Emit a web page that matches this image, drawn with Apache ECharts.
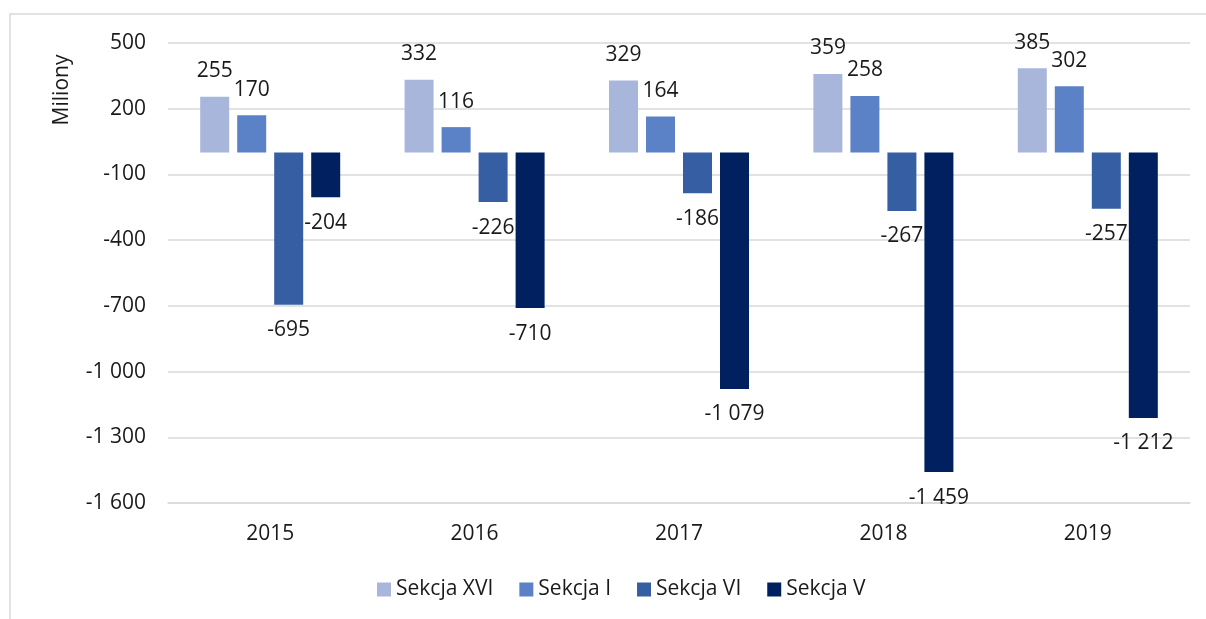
<!DOCTYPE html>
<html>
<head>
<meta charset="utf-8">
<script src="https://cdn.jsdelivr.net/npm/echarts@6/dist/echarts.min.js"></script>
<style>
  html, body { margin: 0; padding: 0; background: #fff; }
  #chart { width: 1206px; height: 619px; }
</style>
</head>
<body>
<div id="chart"></div>
<script>
const years       = ['2015', '2016', '2017', '2018', '2019'];
const seriesNames = ['Sekcja XVI', 'Sekcja I', 'Sekcja VI', 'Sekcja V'];
const sekcjaXVI   = [255, 332, 329, 359, 385];
const sekcjaI     = [170, 116, 164, 258, 302];
const sekcjaVI    = [-695, -226, -186, -267, -257];
const sekcjaV     = [-204, -710, -1079, -1459, -1212];
const colors      = ['#a8b6db', '#5b82c6', '#365fa3', '#002060'];

const FONT = 'Open Sans';
const FS   = 21;
const TXT  = '#1a1a1a';

// space as thousands separator, like "-1 079"
function fmt(v) {
    const s = String(Math.abs(v)).replace(/\B(?=(\d{3})+(?!\d))/g, ' ');
    return v < 0 ? '-' + s : s;
}

function makeSeries(name, values, color) {
    return {
        name: name,
        type: 'bar',
        barWidth: 29,
        barGap: '27.6%',
        itemStyle: { color: color },
        label: {
            show: true,
            distance: 15,
            fontFamily: FONT,
            fontSize: FS,
            color: TXT,
            formatter: p => fmt(p.value)
        },
        data: values.map(v => ({
            value: v,
            label: { position: v >= 0 ? 'top' : 'bottom' }
        }))
    };
}

const allValues = [sekcjaXVI, sekcjaI, sekcjaVI, sekcjaV];

const chart = echarts.init(document.getElementById('chart'));
chart.setOption({
    animation: false,
    textStyle: { fontFamily: FONT },
    grid: { left: 168, right: 16, top: 43, bottom: 116 },
    legend: {
        data: seriesNames,
        left: 372,
        top: 574,
        icon: 'rect',
        itemWidth: 14,
        itemHeight: 14,
        itemGap: 26,
        textStyle: { fontFamily: FONT, fontSize: FS, color: TXT }
    },
    xAxis: [{
        type: 'category',
        data: years,
        axisLine: { show: false },
        axisTick: { show: false },
        axisLabel: { margin: 21, fontFamily: FONT, fontSize: FS, color: TXT }
    }, {
        // zero line
        type: 'category',
        data: years,
        position: 'bottom',
        axisLine: { show: true, onZero: true, lineStyle: { color: '#d9d9d9', width: 1.5 } },
        axisTick: { show: false },
        axisLabel: { show: false }
    }],
    yAxis: {
        type: 'value',
        min: -1600,
        max: 500,
        interval: 300,
        axisLine: { show: false },
        axisTick: { show: false },
        splitLine: { lineStyle: { color: '#d9d9d9', width: 1.5 } },
        axisLabel: {
            margin: 22,
            fontFamily: FONT,
            fontSize: FS,
            color: TXT,
            formatter: v => fmt(v)
        }
    },
    graphic: [{
        type: 'rect',
        shape: { x: 10, y: 14, width: 1300, height: 700 },
        style: { fill: 'none', stroke: '#d9d9d9', lineWidth: 1.5 },
        silent: true
    }, {
        type: 'text',
        x: 62,
        y: 90,
        rotation: Math.PI / 2,
        style: {
            text: 'Miliony',
            fontFamily: FONT,
            fontSize: FS,
            fill: TXT,
            textAlign: 'center',
            textVerticalAlign: 'middle'
        }
    }],
    series: seriesNames.map((n, i) => makeSeries(n, allValues[i], colors[i]))
});
</script>
</body>
</html>
